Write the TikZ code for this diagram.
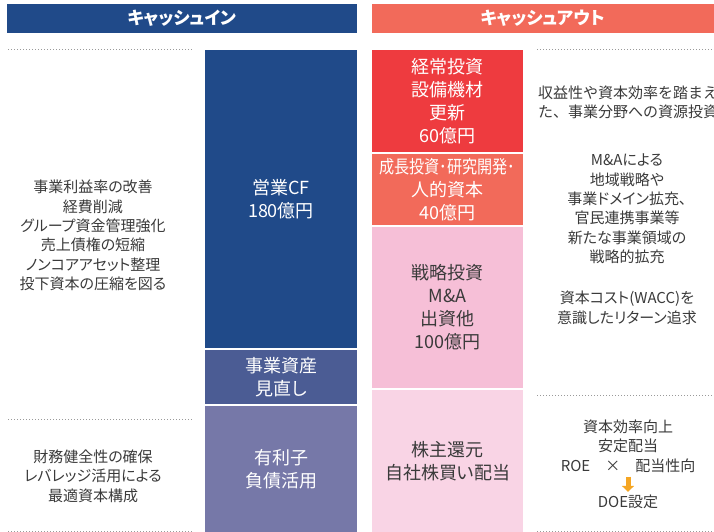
\documentclass[tikz,border=0pt]{standalone}
\usepackage{fontspec}
\usepackage{graphicx}
\setmainfont{Noto Sans CJK JP}[RawFeature=+palt]
\usetikzlibrary{arrows.meta}
\definecolor{inblue}{HTML}{204A89}
\definecolor{assetblue}{HTML}{4B5C94}
\definecolor{debtblue}{HTML}{7678A8}
\definecolor{outred}{HTML}{F26A5A}
\definecolor{capexred}{HTML}{EE3B3F}
\definecolor{stratpink}{HTML}{F6BFD7}
\definecolor{sharepink}{HTML}{F9D4E5}
\definecolor{txtgray}{HTML}{3A3A3A}
\definecolor{dotgray}{HTML}{9A9A9A}
\definecolor{arroworange}{HTML}{F5A623}

\begin{document}
\begin{tikzpicture}[x=1pt, y=-1pt,
   head/.style={inner sep=0pt, minimum height=29pt, text=white, font=\fontsize{17.5}{19}\selectfont\bfseries},
   block/.style={inner sep=0pt, outer sep=0pt, minimum width=152pt, align=center, text=white, font=\fontsize{18}{23}\selectfont},
   pinkblock/.style={block, text=txtgray},
   note/.style={inner sep=0pt, align=center, text=txtgray, font=\fontsize{15}{19.4}\selectfont},
   rule/.style={dash pattern=on 1pt off 2pt, dotgray, line width=1pt}]

\clip (0,0) rectangle (714,532);

\node[head, fill=inblue, minimum width=350pt] (inhead) at (182,18.5) {キャッシュイン};
\node[head, fill=outred, minimum width=342pt] (outhead) at (543,18.5) {キャッシュアウト};

% cash in
\node[block, fill=inblue, minimum height=298pt] (cf) at (281,199) {営業CF\\180億円};
\node[block, fill=assetblue, minimum height=54pt] (asset) at (281,377) {事業資産\\見直し};
\node[block, fill=debtblue, minimum height=126pt] (debt) at (281,469) {有利子\\負債活用};

\node[note] (innote) at (93,235.5) {事業利益率の改善\\経費削減\\グループ資金管理強化\\売上債権の短縮\\ノンコアアセット整理\\投下資本の圧縮を図る};
\node[note] (debtnote) at (93,476) {財務健全性の確保\\レバレッジ活用による\\最適資本構成};

\draw[rule] (8,50) -- (192,50);
\draw[rule] (8,419) -- (192,419);
\draw[rule] (8,531) -- (192,531);

% cash out
\node[block, fill=capexred, minimum width=151pt, minimum height=102pt] (capex) at (447.5,101) {経常投資\\設備機材\\更新\\60億円};
\node[block, fill=outred, minimum width=151pt, minimum height=71pt] (growth) at (447.5,189.5) {\scalebox{0.84}[1]{成長投資･研究開発･}\\人的資本\\40億円};
\node[pinkblock, fill=stratpink, minimum width=151pt, minimum height=161pt] (strat) at (447.5,307.5) {戦略投資\\M\&A\\出資他\\100億円};
\node[pinkblock, fill=sharepink, minimum width=151pt, minimum height=142pt] (share) at (447.5,461) {株主還元\\自社株買い配当};

\node[note, anchor=west, align=left, font=\fontsize{15}{19}\selectfont\addfontfeature{RawFeature=-palt}] (outnote) at (538,102) {収益性や資本効率を踏まえ\\た、事業分野への資源投資};
\node[note] (manote) at (627,209) {M\&Aによる\\地域戦略や\\事業ドメイン拡充、\\官民連携事業等\\新たな事業領域の\\戦略的拡充};
\node[note] (waccnote) at (627,308) {資本コスト(WACC)を\\意識したリターン追求};
\node[note] (roenote) at (628,446) {資本効率向上\\安定配当\\ROE\quad ×\quad 配当性向};
\node[note] (doe) at (628,502) {DOE設定};

\draw[-{Triangle[width=12pt, length=6pt]}, arroworange, line width=5pt, shorten <=4pt, shorten >=3pt] (roenote) -- (doe);

\draw[rule] (537,50) -- (714,50);
\draw[rule] (537,395) -- (714,395);
\draw[rule] (537,531) -- (714,531);

\end{tikzpicture}
\end{document}
